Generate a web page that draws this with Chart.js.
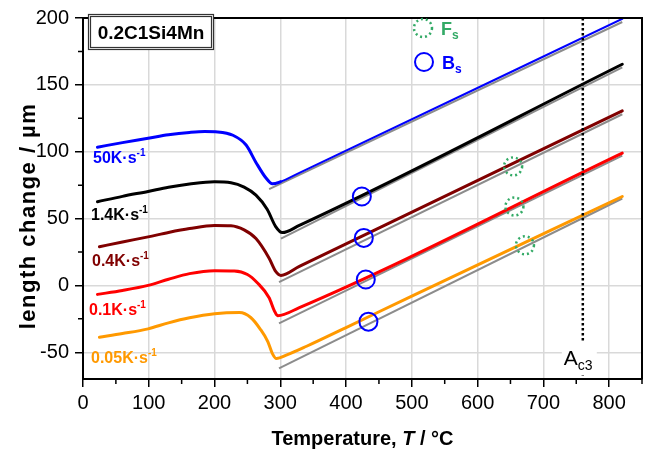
<!DOCTYPE html>
<html>
<head>
<meta charset="utf-8">
<script src="https://cdn.jsdelivr.net/npm/chart.js@4.4.1/dist/chart.umd.min.js"></script>
<style>
  html, body { margin: 0; padding: 0; background: #fff; }
  #c { display: block; }
</style>
</head>
<body>
<canvas id="c" width="653" height="456"></canvas>
<script>
// dilatometry curves, temperature (°C) vs length change (µm)
const tBlue = [22, 60, 99, 130, 162, 185, 205, 228, 248, 263, 278, 288, 300, 329, 820];
const dBlue = [103.4, 106.8, 110, 112.6, 114.4, 115.1, 114.8, 112.3, 105, 92, 80.5, 76, 77.5, 84.2, 199.4];

const tBlack = [22, 60, 99, 130, 162, 200, 225, 245, 263, 280, 293, 303, 329, 820];
const dBlack = [62.6, 66.6, 70.3, 73.4, 75.8, 77.5, 76.8, 73.5, 67.5, 57, 44, 39.5, 44.9, 165.4];

const tDarkRed = [25, 60, 99, 130, 162, 200, 225, 245, 263, 283, 293, 301, 329, 820];
const dDarkRed = [28.9, 32.5, 36.3, 39.6, 42.5, 44.8, 44.6, 41.5, 35, 20.3, 10.5, 7.5, 14.2, 130.5];

const tRed = [22, 60, 99, 130, 162, 200, 230, 250, 265, 283, 291, 296, 329, 820];
const dRed = [-6.7, -3.8, 0, 4.6, 8.8, 11, 10.8, 8.2, 2, -9.2, -19, -22.7, -16.6, 98.9];

const tOrange = [25, 60, 99, 130, 162, 200, 238, 255, 270, 281, 288, 294, 310, 340, 400, 500, 820];
const dOrange = [-38.7, -36, -32.5, -28, -24.2, -21.2, -20.3, -24, -33, -42, -51, -54.7, -52, -45.5, -31.5, -8, 66.5];

// grey linear reference lines (start T, start value, end T, end value)
const greyT0 = [283, 301, 298, 298, 298];
const greyD0 = [72, 35, 2.5, -28.4, -62];
const greyT1 = [820, 820, 820, 820, 820];
const greyD1 = [197, 163, 128, 97, 65];

// bainite start (Bs) and ferrite start (Fs) marks
const bsT = [424, 427, 430, 434];
const bsD = [66.5, 35.5, 4.4, -27.1];
const fsT = [654, 656, 672];
const fsD = [89, 59, 30];

const ac3T = 760;

const rateLabels = ['50K·s', '1.4K·s', '0.4K·s', '0.1K·s', '0.05K·s'];
const curveColors = ['#0000ff', '#000000', '#800000', '#ff0000', '#ff9900'];

const xTicks = [0, 100, 200, 300, 400, 500, 600, 700, 800];
const yTicks = [-50, 0, 50, 100, 150, 200];
const xMinor = [50, 150, 250, 350, 450, 550, 650, 750, 850];
const yMinor = [-25, 25, 75, 125, 175];

const FONT = '"Liberation Sans", Arial, sans-serif';

function pts(ts, ds) {
  return ts.map((t, i) => ({ x: t, y: ds[i] }));
}

const curves = [[tBlue, dBlue], [tBlack, dBlack], [tDarkRed, dDarkRed], [tRed, dRed], [tOrange, dOrange]];

const datasets = [];
greyT0.forEach((t, i) => {
  datasets.push({
    data: [{ x: t, y: greyD0[i] }, { x: greyT1[i], y: greyD1[i] }],
    borderColor: '#8c8c8c', borderWidth: 2, pointRadius: 0, order: 10,
  });
});
curves.forEach(([ts, ds], i) => {
  datasets.push({
    data: pts(ts, ds),
    borderColor: curveColors[i],
    borderWidth: 3,
    pointRadius: 0,
    cubicInterpolationMode: 'monotone',
    borderCapStyle: 'round',
    borderJoinStyle: 'round',
    segment: i === 0 ? { borderWidth: c => (c.p0.parsed.x >= 300 ? 2 : 3) } : undefined,
    order: 5,
  });
});
datasets.push({
  data: [{ x: ac3T, y: 200 }, { x: ac3T, y: -70 }],
  borderColor: '#000', borderWidth: 2.5, borderDash: [2.5, 2.5], pointRadius: 0, order: 4,
});
datasets.push({
  data: pts(bsT, bsD),
  showLine: false,
  pointRadius: 9,
  pointBorderWidth: 2,
  pointBorderColor: '#0000ff',
  pointBackgroundColor: 'rgba(0,0,0,0)',
  order: 1,
});

function richText(ctx, parts, x, y, color) {
  ctx.fillStyle = color;
  ctx.textAlign = 'left';
  ctx.textBaseline = 'alphabetic';
  parts.forEach(p => {
    ctx.font = p.font;
    ctx.fillText(p.t, x, y + (p.dy || 0));
    x += ctx.measureText(p.t).width;
  });
}

function dottedCircle(ctx, x, y) {
  ctx.save();
  ctx.strokeStyle = '#33aa66';
  ctx.lineWidth = 2.5;
  ctx.setLineDash([2, 3]);
  ctx.beginPath();
  ctx.arc(x, y, 9, 0, Math.PI * 2);
  ctx.stroke();
  ctx.restore();
}

const decor = {
  id: 'decor',
  afterDraw(chart) {
    const ctx = chart.ctx;
    const a = chart.chartArea;
    const xs = chart.scales.x, ys = chart.scales.y;
    ctx.save();

    // frame top + right
    ctx.strokeStyle = '#000';
    ctx.lineWidth = 2;
    ctx.beginPath();
    ctx.moveTo(a.left, a.top);
    ctx.lineTo(a.right, a.top);
    ctx.lineTo(a.right, a.bottom);
    ctx.stroke();

    // minor ticks
    ctx.lineWidth = 1.5;
    ctx.beginPath();
    xMinor.forEach(v => {
      const px = xs.getPixelForValue(v);
      ctx.moveTo(px, a.bottom);
      ctx.lineTo(px, a.bottom + 5);
    });
    yMinor.forEach(v => {
      const py = ys.getPixelForValue(v);
      ctx.moveTo(a.left, py);
      ctx.lineTo(a.left - 5, py);
    });
    ctx.stroke();

    // Fs marks
    fsT.forEach((t, i) => dottedCircle(ctx, xs.getPixelForValue(t), ys.getPixelForValue(fsD[i])));

    // Ac3 label
    const acx = xs.getPixelForValue(ac3T);
    ctx.fillStyle = '#fff';
    ctx.fillRect(acx - 21, 343, 35, 32);
    richText(ctx, [
      { t: 'A', font: '21px ' + FONT },
      { t: 'c3', font: '14px ' + FONT, dy: 5 },
    ], acx - 19, 365, '#000');

    // sample box
    ctx.fillStyle = '#fff';
    ctx.fillRect(88, 14, 125, 35);
    ctx.strokeStyle = '#333';
    ctx.lineWidth = 1.2;
    ctx.strokeRect(88.5, 14.5, 125, 35);
    ctx.strokeRect(90.5, 16.5, 121, 31);
    ctx.fillStyle = '#000';
    ctx.font = 'bold 19px ' + FONT;
    ctx.textAlign = 'center';
    ctx.fillText('0.2C1Si4Mn', 151, 39);

    // legend
    dottedCircle(ctx, 423, 28);
    richText(ctx, [
      { t: 'F', font: 'bold 18px ' + FONT },
      { t: 's', font: 'bold 12px ' + FONT, dy: 4 },
    ], 441, 35, '#33aa66');
    ctx.strokeStyle = '#0000ff';
    ctx.lineWidth = 2;
    ctx.beginPath();
    ctx.arc(424, 62, 9, 0, Math.PI * 2);
    ctx.stroke();
    richText(ctx, [
      { t: 'B', font: 'bold 18px ' + FONT },
      { t: 's', font: 'bold 12px ' + FONT, dy: 4 },
    ], 442, 69, '#0000ff');

    // rate labels
    const lx = [93, 91, 92, 89, 91];
    const ly = [163, 220, 266, 315, 363];
    rateLabels.forEach((s, i) => {
      richText(ctx, [
        { t: s, font: 'bold 16px ' + FONT },
        { t: '-1', font: 'bold 10px ' + FONT, dy: -7 },
      ], lx[i], ly[i], curveColors[i]);
    });

    // axis titles
    ctx.fillStyle = '#000';
    ctx.font = 'bold 20px ' + FONT;
    const p1 = 'Temperature, ', p2 = 'T', p3 = ' / °C';
    const w1 = ctx.measureText(p1).width, w3 = ctx.measureText(p3).width;
    ctx.font = 'italic bold 20px ' + FONT;
    const w2 = ctx.measureText(p2).width;
    const cx = (a.left + a.right) / 2 - (w1 + w2 + w3) / 2;
    richText(ctx, [
      { t: p1, font: 'bold 20px ' + FONT },
      { t: p2, font: 'italic bold 20px ' + FONT },
      { t: p3, font: 'bold 20px ' + FONT },
    ], cx, 445, '#000');

    ctx.translate(35, 216);
    ctx.rotate(-Math.PI / 2);
    ctx.font = 'bold 22px ' + FONT;
    ctx.letterSpacing = '1.5px';
    ctx.textAlign = 'center';
    ctx.fillText('length change / µm', 0, 0);
    ctx.restore();
  },
};

new Chart(document.getElementById('c'), {
  type: 'line',
  data: { datasets },
  options: {
    responsive: false,
    animation: false,
    layout: { padding: { top: 13, right: 9, left: 0, bottom: 0 } },
    plugins: { legend: { display: false }, tooltip: { enabled: false } },
    scales: {
      x: {
        type: 'linear', min: 0, max: 850,
        afterBuildTicks: s => { s.ticks = xTicks.map(v => ({ value: v })); },
        afterFit: s => { s.height = 77; },
        ticks: { autoSkip: false, color: '#000', font: { family: FONT, size: 20 }, padding: 4, maxRotation: 0 },
        grid: { color: '#d9d9d9', lineWidth: 1.5, tickColor: '#000', tickLength: 8, tickWidth: 1.5 },
        border: { color: '#000', width: 2 },
      },
      y: {
        type: 'linear', min: -70, max: 200,
        afterBuildTicks: s => { s.ticks = yTicks.map(v => ({ value: v })); },
        afterFit: s => { s.width = 83; },
        ticks: { autoSkip: false, color: '#000', font: { family: FONT, size: 20 }, padding: 6 },
        grid: { color: '#d9d9d9', lineWidth: 1.5, tickColor: '#000', tickLength: 8, tickWidth: 1.5 },
        border: { color: '#000', width: 2 },
      },
    },
  },
  plugins: [decor],
});
</script>
</body>
</html>
